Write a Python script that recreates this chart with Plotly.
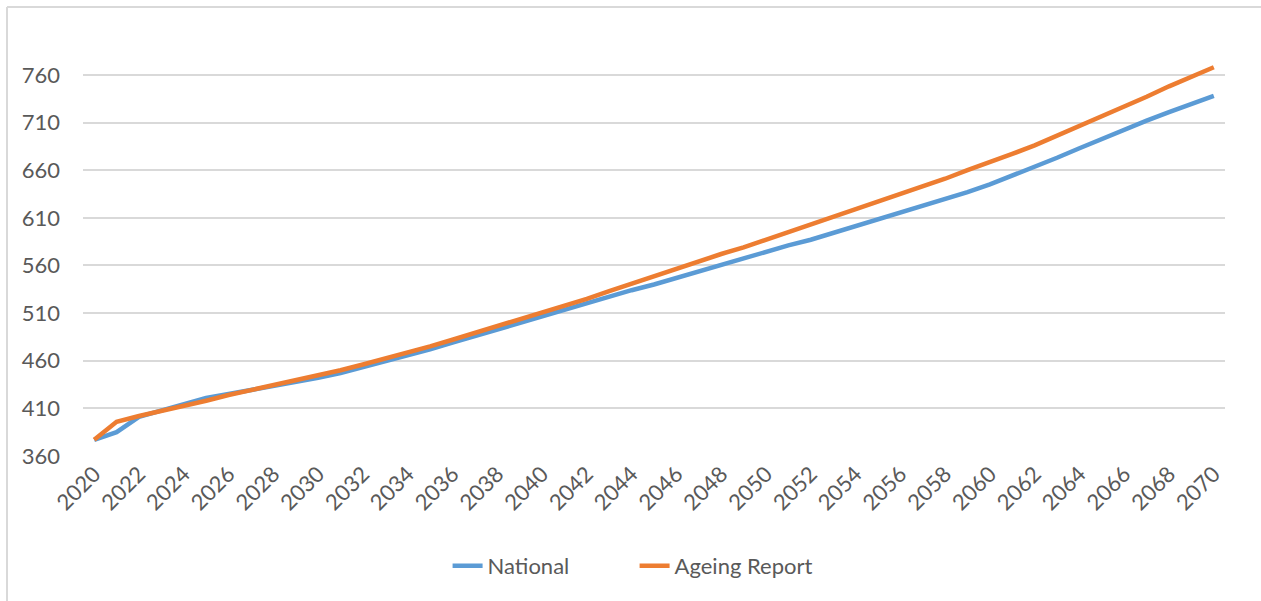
import plotly.graph_objects as go

years = list(range(2020, 2071))
national = [377, 385, 401, 408, 415, 421, 425, 429, 433, 437,
            442, 447, 453, 459, 465, 472, 479, 486, 493, 499,
            506, 513, 520, 527, 534, 540, 547, 554, 561, 567,
            574, 581, 587, 594, 601, 608, 615, 622, 629, 637,
            645, 654, 663, 673, 683, 693, 702, 712, 721, 730,
            738]
ageing = [377, 396, 402, 407, 413, 418, 424, 429, 434, 439,
          445, 450, 456, 462, 468, 475, 482, 489, 496, 503,
          511, 518, 525, 533, 541, 548, 556, 564, 572, 579,
          587, 594, 602, 610, 618, 626, 634, 643, 651, 660,
          668, 677, 686, 696, 707, 717, 727, 737, 748, 758,
          768]
x_ticks = list(range(2020, 2071, 2))
y_ticks = [360, 410, 460, 510, 560, 610, 660, 710, 760]

FONT = "Lato"
GRID = "#D9D9D9"
TEXT = "#595959"

fig = go.Figure()
fig.add_trace(go.Scatter(x=years, y=national, mode="lines", name="National",
                         line=dict(color="#5B9BD5", width=4.5)))
fig.add_trace(go.Scatter(x=years, y=ageing, mode="lines", name="Ageing Report",
                         line=dict(color="#ED7D31", width=4.5)))

L, R, T, B = 83, 36, 32, 145
W, H = 1261, 601
pw, ph = W - L - R, H - T - B

def px_x(px):
    return (px - L) / pw

def px_y(py):
    return (H - B - py) / ph

fig.update_layout(
    width=W, height=H,
    margin=dict(l=L, r=R, t=T, b=B),
    paper_bgcolor="white", plot_bgcolor="white",
    font=dict(family=FONT, size=22, color=TEXT),
    showlegend=True,
    legend=dict(orientation="h", x=0.483, xanchor="center", y=px_y(566), yanchor="middle",
                entrywidth=142, entrywidthmode="pixels",
                font=dict(family=FONT, size=22, color=TEXT), bgcolor="rgba(0,0,0,0)"),
    xaxis=dict(range=[2019.5, 2070.5], tickvals=x_ticks, ticktext=[str(v) for v in x_ticks],
               tickangle=-45, showgrid=False, zeroline=False, showline=False, ticks="",
               tickfont=dict(family=FONT, size=22, color=TEXT)),
    yaxis=dict(range=[360, 805], tickvals=y_ticks, showgrid=True, gridcolor=GRID, gridwidth=1.5,
               zeroline=False, showline=False, ticks="", ticklabelstandoff=22,
               tickfont=dict(family=FONT, size=22, color=TEXT)),
    shapes=[
        dict(type="line", xref="paper", yref="paper", x0=px_x(7), x1=px_x(1261), y0=px_y(7), y1=px_y(7),
             line=dict(color=GRID, width=2)),
        dict(type="line", xref="paper", yref="paper", x0=px_x(7), x1=px_x(7), y0=px_y(7), y1=px_y(601),
             line=dict(color=GRID, width=2)),
    ],
)

fig.write_html("out.html")
